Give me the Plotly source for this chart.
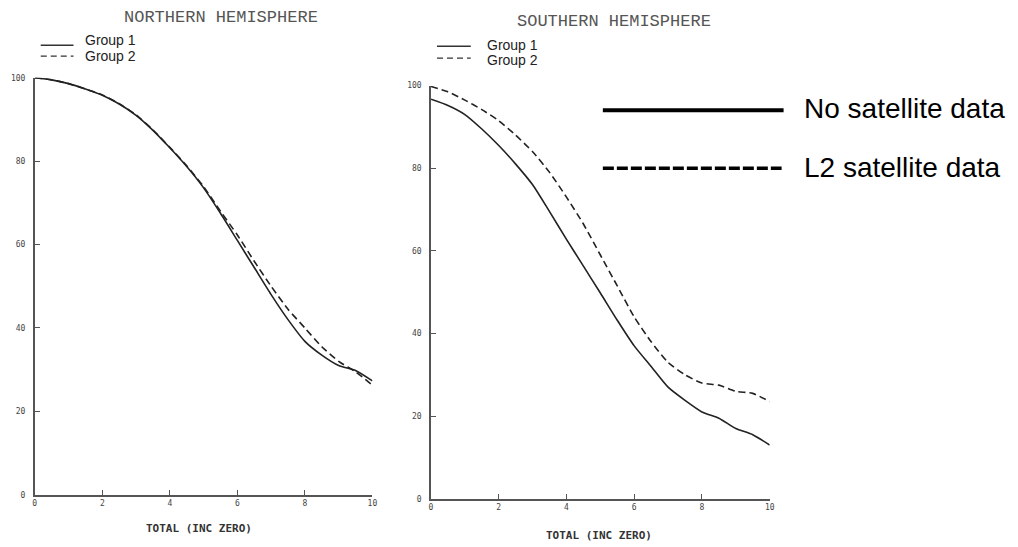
import plotly.graph_objects as go

# ---------------- data ----------------
x_vals = [0, 0.5, 1, 1.5, 2, 2.5, 3, 3.5, 4, 4.5, 5, 5.5, 6, 6.5, 7, 7.5, 8, 8.5, 9, 9.5, 10]

north_group1 = [100, 99.5, 98.6, 97.3, 95.8, 93.7, 91.0, 87.4, 83.2, 78.7, 73.6, 67.5, 61.0, 54.5, 48.0, 42.0, 36.8, 33.5, 31.0, 29.8, 27.3]
north_group2 = [100, 99.5, 98.6, 97.3, 95.9, 93.8, 91.1, 87.5, 83.3, 78.9, 73.9, 68.0, 62.3, 56.0, 50.0, 44.5, 40.0, 35.5, 32.0, 29.5, 26.3]

south_group1 = [96.7, 95.2, 93.0, 89.5, 85.5, 81.0, 76.0, 69.5, 62.8, 56.3, 49.8, 43.2, 37.0, 32.0, 27.0, 23.8, 21.0, 19.5, 17.0, 15.5, 13.0]
south_group2 = [99.8, 98.5, 96.5, 94.2, 91.5, 88.0, 84.0, 79.0, 73.0, 66.5, 59.0, 51.5, 44.0, 38.0, 33.0, 30.0, 28.0, 27.5, 26.0, 25.5, 23.5]

x_ticks = [0, 2, 4, 6, 8, 10]
y_ticks = [0, 20, 40, 60, 80, 100]

titles = ["NORTHERN HEMISPHERE", "SOUTHERN HEMISPHERE"]
x_title = "TOTAL (INC ZERO)"
group_names = ["Group 1", "Group 2"]
key_names = ["No satellite data", "L2 satellite data"]

# ---------------- figure ----------------
W, H = 1018, 547
LINE = "#222222"
AXIS = "#555555"
TICKFONT = dict(family="DejaVu Sans Mono", size=8, color="#444444")

fig = go.Figure()

def px(xp):
    return xp / W

def py(yp):
    return 1 - yp / H

panels = [
    dict(xa="x", ya="y", g1=north_group1, g2=north_group2),
    dict(xa="x2", ya="y2", g1=south_group1, g2=south_group2),
]
for p in panels:
    fig.add_trace(go.Scatter(x=x_vals, y=p["g1"], mode="lines", xaxis=p["xa"], yaxis=p["ya"],
                             line=dict(color=LINE, width=1.6, shape="spline", smoothing=0.6),
                             showlegend=False, hoverinfo="skip"))
    fig.add_trace(go.Scatter(x=x_vals, y=p["g2"], mode="lines", xaxis=p["xa"], yaxis=p["ya"],
                             line=dict(color=LINE, width=1.6, dash="7px,4px", shape="spline", smoothing=0.6),
                             showlegend=False, hoverinfo="skip"))

axis_common = dict(showgrid=False, zeroline=False, showline=True, linecolor=AXIS, linewidth=1.5,
                   ticks="inside", ticklen=5, tickwidth=1, tickcolor=AXIS, tickfont=TICKFONT)

fig.update_layout(
    width=W, height=H,
    margin=dict(l=0, r=0, t=0, b=0),
    paper_bgcolor="white", plot_bgcolor="white",
    xaxis=dict(domain=[px(33), px(373)], range=[0, 10], tickvals=x_ticks, anchor="y", **axis_common),
    yaxis=dict(domain=[py(499), py(75)], range=[0, 100], tickvals=y_ticks, anchor="x",
               ticklabelstandoff=6, **axis_common),
    xaxis2=dict(domain=[px(432), px(773)], range=[0, 10], tickvals=x_ticks, anchor="y2", **axis_common),
    yaxis2=dict(domain=[py(503), py(83)], range=[0, 100], tickvals=y_ticks, anchor="x2",
                ticklabelstandoff=6, **axis_common),
)

annotations = []
shapes = []

# panel titles
for cx, cy, t in [(221, 14, titles[0]), (616, 18, titles[1])]:
    annotations.append(dict(x=px(cx), y=py(cy), xref="paper", yref="paper", text=t, showarrow=False,
                            xanchor="center", yanchor="middle",
                            font=dict(family="Liberation Mono", size=17, color="#555555")))

# x axis titles
for cx, cy in [(198, 533), (601, 540)]:
    annotations.append(dict(x=px(cx), y=py(cy), xref="paper", yref="paper", text="<b>" + x_title + "</b>",
                            showarrow=False, xanchor="center", yanchor="middle",
                            font=dict(family="DejaVu Sans Mono", size=11, color="#333333")))

# group legends
for (lx0, lx1, y1, y2, tx, ty1, ty2) in [(39, 72, 42, 53, 82, 37, 53), (438, 472, 43, 55, 486, 42, 57)]:
    shapes.append(dict(type="line", xref="paper", yref="paper", x0=px(lx0), x1=px(lx1), y0=py(y1), y1=py(y1),
                       line=dict(color="#333333", width=1.4)))
    shapes.append(dict(type="line", xref="paper", yref="paper", x0=px(lx0), x1=px(lx1), y0=py(y2), y1=py(y2),
                       line=dict(color="#333333", width=1.4, dash="6px,4px")))
    annotations.append(dict(x=px(tx), y=py(ty1), xref="paper", yref="paper", text=group_names[0], showarrow=False,
                            xanchor="left", yanchor="middle",
                            font=dict(family="Liberation Sans", size=14, color="#222222")))
    annotations.append(dict(x=px(tx), y=py(ty2), xref="paper", yref="paper", text=group_names[1], showarrow=False,
                            xanchor="left", yanchor="middle",
                            font=dict(family="Liberation Sans", size=14, color="#222222")))

# satellite key
shapes.append(dict(type="line", xref="paper", yref="paper", x0=px(605), x1=px(787), y0=py(108), y1=py(108),
                   line=dict(color="black", width=4)))
shapes.append(dict(type="line", xref="paper", yref="paper", x0=px(605), x1=px(785), y0=py(167), y1=py(167),
                   line=dict(color="black", width=3.5, dash="11px,3px")))
annotations.append(dict(x=px(806), y=py(106), xref="paper", yref="paper", text=key_names[0], showarrow=False,
                        xanchor="left", yanchor="middle",
                        font=dict(family="Liberation Sans", size=28, color="black")))
annotations.append(dict(x=px(806), y=py(166), xref="paper", yref="paper", text=key_names[1], showarrow=False,
                        xanchor="left", yanchor="middle",
                        font=dict(family="Liberation Sans", size=28, color="black")))

fig.update_layout(annotations=annotations, shapes=shapes)

fig.write_html("out.html")
